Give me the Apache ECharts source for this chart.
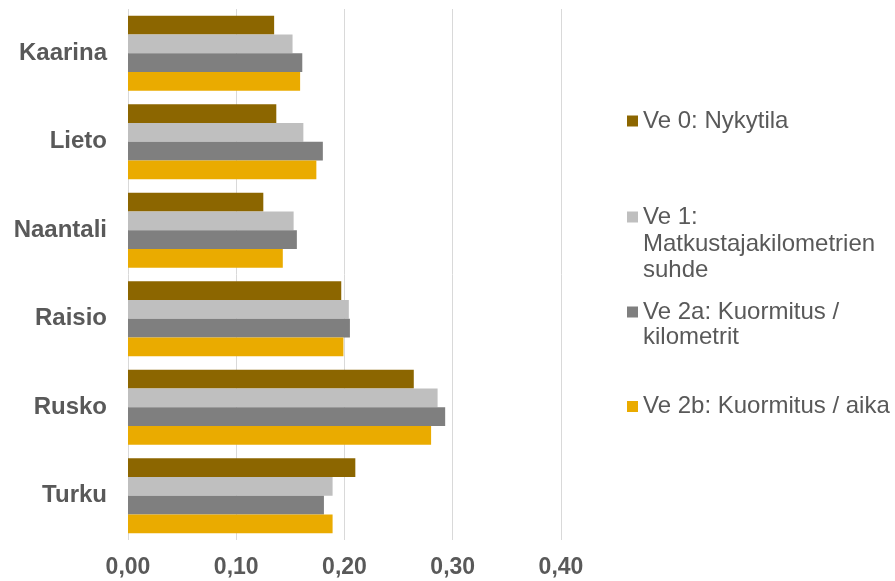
<!DOCTYPE html>
<html>
<head>
<meta charset="utf-8">
<script src="https://cdn.jsdelivr.net/npm/echarts@6/dist/echarts.min.js"></script>
<style>html,body{margin:0;padding:0;background:#fff}#c{width:895px;height:581px}</style>
</head>
<body>
<div id="c"></div>
<script>
const categories = ['Kaarina', 'Lieto', 'Naantali', 'Raisio', 'Rusko', 'Turku'];
const seriesNames = ['Ve 0: Nykytila', 'Ve 1: Matkustajakilometrien suhde', 'Ve 2a: Kuormitus / kilometrit', 'Ve 2b: Kuormitus / aika'];
const ve0 = [0.135, 0.137, 0.125, 0.197, 0.264, 0.210];
const ve1 = [0.152, 0.162, 0.153, 0.204, 0.286, 0.189];
const ve2a = [0.161, 0.180, 0.156, 0.205, 0.293, 0.181];
const ve2b = [0.159, 0.174, 0.143, 0.199, 0.280, 0.189];
const xTicks = [0, 0.1, 0.2, 0.3, 0.4];

const colors = ['#8C6600', '#BFBFBF', '#7F7F7F', '#EAAB00'];
const values = [ve0, ve1, ve2a, ve2b];
const textColor = '#595959';
const font = 'Liberation Sans, Arial, sans-serif';

const legendFirstLine = {
  'Ve 0: Nykytila': 'Ve 0: Nykytila',
  'Ve 1: Matkustajakilometrien suhde': 'Ve 1:',
  'Ve 2a: Kuormitus / kilometrit': 'Ve 2a: Kuormitus /',
  'Ve 2b: Kuormitus / aika': 'Ve 2b: Kuormitus / aika'
};
const legendTops = [107.5, 203.5, 298.5, 393];
const extraLines = [
  {text: 'Matkustajakilometrien', y: 244.5},
  {text: 'suhde', y: 270.5},
  {text: 'kilometrit', y: 337.5}
];

const chart = echarts.init(document.getElementById('c'), null, {renderer: 'canvas'});
chart.setOption({
  animation: false,
  grid: {left: 128, right: 334, top: 9, bottom: 41, containLabel: false},
  xAxis: {
    type: 'value', min: 0, max: 0.4, interval: 0.1,
    axisLine: {show: false}, axisTick: {show: false},
    splitLine: {show: true, lineStyle: {color: '#D9D9D9', width: 1}},
    axisLabel: {
      margin: 16, color: textColor, fontSize: 23, fontWeight: 'bold', fontFamily: font,
      formatter: v => xTicks.some(t => Math.abs(t - v) < 1e-9) ? v.toFixed(2).replace('.', ',') : ''
    }
  },
  yAxis: {
    type: 'category', data: categories, inverse: true,
    axisLine: {show: false}, axisTick: {show: false},
    axisLabel: {margin: 21, color: textColor, fontSize: 24, fontWeight: 'bold', fontFamily: font}
  },
  legend: seriesNames.map((n, i) => ({
    data: [n], orient: 'vertical', left: 627, top: legendTops[i], padding: 0,
    itemWidth: 11, itemHeight: 11, icon: 'rect', selectedMode: false,
    formatter: name => legendFirstLine[name],
    textStyle: {color: textColor, fontSize: 24, fontFamily: font, lineHeight: 27}
  })),
  graphic: extraLines.map(l => ({
    type: 'text', x: 643, y: l.y,
    style: {text: l.text, fill: textColor, font: '24px ' + font, verticalAlign: 'middle', align: 'left'}
  })),
  series: seriesNames.map((n, i) => ({
    name: n, type: 'bar', data: values[i],
    barGap: '0%', barCategoryGap: '15%',
    itemStyle: {color: colors[i]}
  }))
});
</script>
</body>
</html>
